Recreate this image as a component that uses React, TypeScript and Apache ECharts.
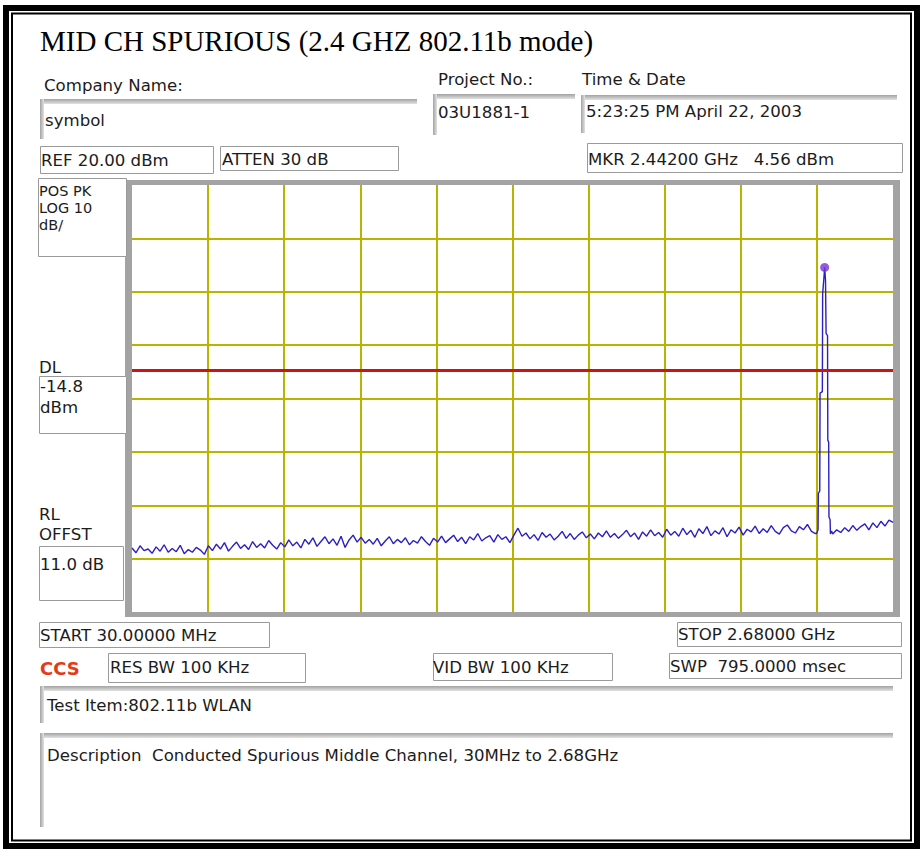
import React, { useEffect, useRef } from "react";
import * as echarts from "echarts";

// ---- instrument settings ----
const startFreqMHz = 30;
const stopFreqMHz = 2680;
const refLevelDbm = 20;
const bottomLevelDbm = -60;
const dbPerDiv = 10;
const freqDivisions = [0, 1, 2, 3, 4, 5, 6, 7, 8, 9, 10];
const displayLineDbm = -14.8;
const markerFreqMHz = 2442;
const markerLevelDbm = 4.56;

// ---- trace: sweep points below the carrier (30 MHz .. 2410 MHz, 14 MHz apart) ----
const lowBandStartMHz = 30;
const sweepStepMHz = 14;
const lowBandLevels = [
  -48.0, -48.9, -47.6, -48.5, -48.2, -49.0, -47.8, -48.6, -47.4, -48.8,
  -48.1, -48.7, -47.5, -49.1, -48.3, -48.8, -47.9, -48.4, -49.2, -47.6,
  -48.5, -47.3, -48.2, -47.0, -48.6, -47.7, -46.9, -48.1, -47.4, -48.3,
  -46.8, -47.9, -47.2, -48.0, -46.6, -47.5, -48.2, -47.0, -47.8, -46.5,
  -47.6, -46.9, -48.0, -46.4, -47.3, -46.1, -47.7, -46.8, -45.9, -47.2,
  -46.3, -47.5, -45.8, -47.9, -46.5, -45.6, -46.9, -46.0, -47.1, -46.4,
  -47.3, -46.2, -47.6, -46.7, -45.9, -47.2, -46.4, -47.0, -46.1, -47.4,
  -46.6, -47.1, -45.9, -46.8, -47.5, -46.2, -46.9, -45.8, -47.0, -46.3,
  -45.6, -46.8, -46.0, -47.2, -45.9, -46.5, -45.3, -46.7, -46.1, -45.7,
  -46.9, -45.5, -46.4, -45.9, -47.0, -45.6, -44.3, -45.8, -45.2, -46.3,
  -45.5, -46.6, -45.1, -46.0, -45.4, -46.5, -45.8, -44.9, -46.2, -45.3,
  -46.4, -45.6, -45.0, -46.1, -45.4, -46.3, -45.2, -45.9, -44.8, -46.0,
  -45.3, -46.2, -45.5, -44.7, -45.9, -45.2, -46.4, -45.0, -45.8, -44.6,
  -45.7, -45.1, -46.0, -44.5, -45.6, -44.9, -45.8, -44.3, -45.5, -44.7,
  -46.0, -44.4, -45.3, -44.0, -45.7, -44.8, -45.4, -44.2, -45.9, -44.6,
  -45.2, -44.1, -45.6, -44.5, -45.0, -43.9, -45.3, -44.4, -45.1, -43.8,
  -44.9, -45.4, -44.2, -43.7, -44.8, -45.2, -44.0, -44.6, -43.6, -44.9, -45.3,
];

// ---- trace: the carrier at the middle channel ----
const peakFreqs = [2414, 2419, 2420, 2425, 2426, 2434, 2435, 2439, 2442, 2445, 2447, 2452, 2453, 2456, 2457, 2461, 2462, 2466];
const peakLevels = [-45.3, -44.6, -37.8, -37.3, -19.0, -18.7, -0.4, 2.3, 4.56, 2.1, -7.8, -8.2, -27.8, -28.2, -42.2, -42.7, -45.4, -44.8];

// ---- trace: sweep points above the carrier (2470 MHz .. 2680 MHz) ----
const highBandStartMHz = 2470;
const highBandLevels = [-45.4, -44.6, -45.1, -44.2, -44.9, -43.8, -44.7, -44.0, -43.5, -44.6, -43.3, -44.2, -43.0, -43.9, -42.8, -43.2];

const FONT = "'DejaVu Sans', Verdana, sans-serif";
const SERIF = "'Liberation Serif', 'Times New Roman', serif";
const INK = "#1c1c1c";
const BOX = "#9a9a9a";
const GRIDC = "#b8b400";

function txt(text: string, x: number, y: number, extra: any = {}) {
  return {
    type: "text",
    x,
    y,
    z: 20,
    silent: true,
    style: {
      text,
      fill: extra.fill || INK,
      fontSize: extra.fontSize || 16.6,
      fontFamily: extra.fontFamily || FONT,
      fontWeight: extra.fontWeight || "normal",
      textAlign: "left",
      textVerticalAlign: "middle",
      align: "left",
      verticalAlign: "middle",
    },
  };
}

function box(x: number, y: number, w: number, h: number) {
  return {
    type: "rect",
    z: 5,
    silent: true,
    shape: { x: x + 0.5, y: y + 0.5, width: w, height: h },
    style: { fill: "#fff", stroke: BOX, lineWidth: 1 },
  };
}

function field(x: number, y: number, w: number, hLeft: number) {
  return [
    {
      type: "rect",
      z: 5,
      silent: true,
      shape: { x, y, width: w, height: 5 },
      style: {
        fill: new echarts.graphic.LinearGradient(0, 0, 0, 1, [
          { offset: 0, color: "#a2a2a2" },
          { offset: 1, color: "#e2e2e2" },
        ]),
      },
    },
    {
      type: "rect",
      z: 5,
      silent: true,
      shape: { x, y, width: 4, height: hLeft },
      style: {
        fill: new echarts.graphic.LinearGradient(0, 0, 1, 0, [
          { offset: 0, color: "#a2a2a2" },
          { offset: 1, color: "#e2e2e2" },
        ]),
      },
    },
  ];
}

export default function App() {
  const ref = useRef<HTMLDivElement>(null);

  useEffect(() => {
    if (!ref.current) return;
    const chart = echarts.init(ref.current, undefined, { renderer: "svg" });

    const trace: number[][] = [
      ...lowBandLevels.map((v, i) => [lowBandStartMHz + i * sweepStepMHz, v]),
      ...peakFreqs.map((f, i) => [f, peakLevels[i]]),
      ...highBandLevels.map((v, i) => [highBandStartMHz + i * sweepStepMHz, v]),
    ];

    const elements: any[] = [
      // outer double frame
      { type: "rect", z: 1, silent: true, shape: { x: 6, y: 8, width: 911, height: 838 }, style: { fill: "none", stroke: "#000", lineWidth: 6 } },
      { type: "rect", z: 1, silent: true, shape: { x: 12, y: 13.5, width: 899, height: 827 }, style: { fill: "none", stroke: "#000", lineWidth: 2 } },
      // plot frame
      { type: "rect", z: -10, silent: true, shape: { x: 125, y: 180, width: 775, height: 437 }, style: { fill: "#a3a3a3" } },
      { type: "rect", z: -9, silent: true, shape: { x: 132, y: 185, width: 761, height: 427 }, style: { fill: "#ffffff" } },

      txt("MID CH SPURIOUS (2.4 GHZ 802.11b mode)", 40, 41, { fontFamily: SERIF, fontSize: 29, fill: "#000" }),
      txt("Company Name:", 44, 85),
      txt("Project No.:", 438, 79),
      txt("Time & Date", 582, 79),
      ...field(40, 99, 377, 40),
      ...field(433, 94, 142, 41),
      ...field(581, 95, 316, 38),
      txt("symbol", 45, 120),
      txt("03U1881-1", 438, 112),
      txt("5:23:25 PM April 22, 2003", 586, 111),

      box(40, 146, 173, 27),
      txt("REF 20.00 dBm", 41, 160),
      box(220, 146, 178, 24),
      txt("ATTEN 30 dB", 222, 159),
      box(587, 143, 315, 29),
      txt("MKR 2.44200 GHz   4.56 dBm", 588, 159),

      box(38, 178, 88, 78),
      txt("POS PK", 39, 191, { fontSize: 14.5 }),
      txt("LOG 10", 39, 208, { fontSize: 14.5 }),
      txt("dB/", 39, 225, { fontSize: 14.5 }),
      txt("DL", 39, 367),
      box(39, 376, 87, 57),
      txt("-14.8", 40, 386),
      txt("dBm", 40, 407),
      txt("RL", 39, 514),
      txt("OFFST", 39, 534),
      box(39, 546, 84, 54),
      txt("11.0 dB", 40, 564),

      box(39, 622, 230, 25),
      txt("START 30.00000 MHz", 40, 635),
      box(677, 622, 224, 24),
      txt("STOP 2.68000 GHz", 678, 634),
      txt("CCS", 40, 668, { fill: "#e23b17", fontWeight: "bold", fontSize: 18 }),
      box(108, 653, 197, 29),
      txt("RES BW 100 KHz", 110, 667),
      box(433, 653, 179, 27),
      txt("VID BW 100 KHz", 433, 667),
      box(669, 653, 232, 25),
      txt("SWP  795.0000 msec", 670, 666),

      ...field(40, 686, 853, 37),
      txt("Test Item:802.11b WLAN", 47, 705),
      ...field(40, 733, 853, 94),
      txt("Description  Conducted Spurious Middle Channel, 30MHz to 2.68GHz", 47, 755),
    ];

    const hiddenAxisParts = {
      axisLine: { show: false },
      axisTick: { show: false },
      axisLabel: { show: false },
    };
    const gridLine = {
      show: true,
      showMinLine: false,
      showMaxLine: false,
      lineStyle: { color: GRIDC, width: 2, type: "solid" },
    };

    chart.setOption({
      animation: false,
      backgroundColor: "#ffffff",
      grid: { left: 132, top: 185, width: 761, height: 427, show: false, containLabel: false },
      xAxis: [
        { type: "value", min: startFreqMHz, max: stopFreqMHz, show: false, splitLine: { show: false } },
        {
          type: "value",
          min: freqDivisions[0],
          max: freqDivisions[freqDivisions.length - 1],
          interval: 1,
          position: "bottom",
          ...hiddenAxisParts,
          splitLine: gridLine,
        },
      ],
      yAxis: {
        type: "value",
        min: bottomLevelDbm,
        max: refLevelDbm,
        interval: dbPerDiv,
        ...hiddenAxisParts,
        splitLine: gridLine,
      },
      series: [
        {
          type: "line",
          xAxisIndex: 0,
          yAxisIndex: 0,
          data: trace,
          symbol: "none",
          showSymbol: false,
          silent: true,
          z: 4,
          lineStyle: { color: "#2c1fc6", width: 1.4 },
          markLine: {
            silent: true,
            symbol: ["none", "none"],
            label: { show: false },
            lineStyle: { color: "#cc1414", width: 3, type: "solid" },
            data: [{ yAxis: displayLineDbm }],
          },
        },
        {
          type: "scatter",
          xAxisIndex: 0,
          yAxisIndex: 0,
          data: [[markerFreqMHz, markerLevelDbm]],
          symbol: "circle",
          symbolSize: 9,
          silent: true,
          z: 5,
          itemStyle: { color: "#7433d4" },
        },
      ],
      graphic: { elements },
    });

    return () => chart.dispose();
  }, []);

  return (
    <div
      ref={ref}
      style={{ position: "fixed", left: 0, top: 0, width: 922, height: 852, background: "#fff" }}
    />
  );
}
